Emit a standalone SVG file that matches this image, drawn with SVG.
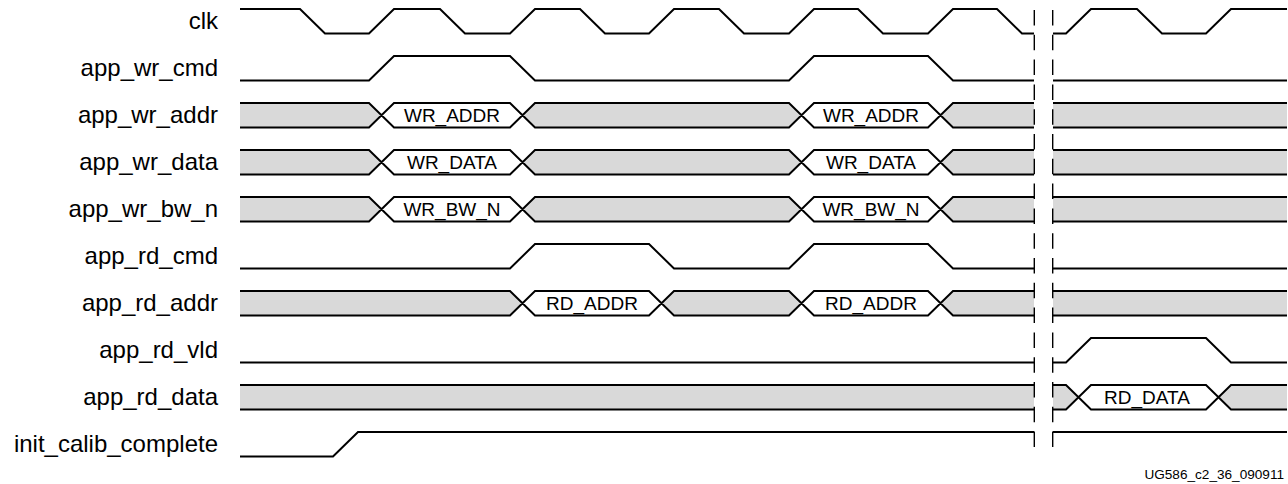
<svg xmlns="http://www.w3.org/2000/svg" width="1288" height="484" viewBox="0 0 1288 484">
<style>
  .lbl { font-family: "Liberation Sans", Arial, Helvetica, sans-serif; font-size: 24px; fill: #000; text-anchor: end; }
  .val { font-family: "Liberation Sans", Arial, Helvetica, sans-serif; font-size: 19px; fill: #000; text-anchor: middle; }
  .foot { font-family: "Liberation Sans", Arial, Helvetica, sans-serif; font-size: 13.6px; fill: #000; text-anchor: end; }
  .sig { fill: none; stroke: #000; stroke-width: 2; stroke-linejoin: miter; }
  .gray { fill: #d9d9d9; stroke: none; }
  .brk { fill: none; stroke: #000; stroke-width: 1.4; stroke-dasharray: 15.5 9.3; }
</style>
<rect x="0" y="0" width="1288" height="484" fill="#fff"/>

<g id="clk" transform="translate(0,9)">
  <text class="lbl" x="218" y="20">clk</text>
  <path class="sig" d="M240,0 H300 L325,24.5 H369 L394,0 H440 L465,24.5 H510 L535,0 H580 L605,24.5 H649 L674,0 H719 L744,24.5 H789 L814,0 H858 L883,24.5 H928 L953,0 H997 L1022,24.5 H1034"/>
  <path class="sig" d="M1053,24.5 H1066 L1091,0 H1137 L1162,24.5 H1206 L1231,0 H1287"/>
</g>

<g id="app_wr_cmd" transform="translate(0,56)">
  <text class="lbl" x="218" y="20">app_wr_cmd</text>
  <path class="sig" d="M240,24.5 H369 L394,0 H510 L535,24.5 H789 L814,0 H928 L953,24.5 H1034"/>
  <path class="sig" d="M1053,24.5 H1287"/>
</g>

<g id="app_wr_addr" transform="translate(0,103)">
  <text class="lbl" x="218" y="20">app_wr_addr</text>
  <path class="gray" d="M240,0 H369 L381.5,12.25 L369,24.5 H240 Z M522.5,12.25 L535,0 H789 L801.5,12.25 L789,24.5 H535 Z M940.5,12.25 L953,0 H1034 V24.5 H953 Z M1053,0 H1287 V24.5 H1053 Z"/>
  <path class="sig" d="M240,0 H369 L394,24.5 H510 L535,0 H789 L814,24.5 H928 L953,0 H1034 M240,24.5 H369 L394,0 H510 L535,24.5 H789 L814,0 H928 L953,24.5 H1034 M1053,0 H1287 M1053,24.5 H1287"/>
  <text class="val" x="452" y="19.25">WR_ADDR</text>
  <text class="val" x="871" y="19.25">WR_ADDR</text>
</g>

<g id="app_wr_data" transform="translate(0,150)">
  <text class="lbl" x="218" y="20">app_wr_data</text>
  <path class="gray" d="M240,0 H369 L381.5,12.25 L369,24.5 H240 Z M522.5,12.25 L535,0 H789 L801.5,12.25 L789,24.5 H535 Z M940.5,12.25 L953,0 H1034 V24.5 H953 Z M1053,0 H1287 V24.5 H1053 Z"/>
  <path class="sig" d="M240,0 H369 L394,24.5 H510 L535,0 H789 L814,24.5 H928 L953,0 H1034 M240,24.5 H369 L394,0 H510 L535,24.5 H789 L814,0 H928 L953,24.5 H1034 M1053,0 H1287 M1053,24.5 H1287"/>
  <text class="val" x="452" y="19.25">WR_DATA</text>
  <text class="val" x="871" y="19.25">WR_DATA</text>
</g>

<g id="app_wr_bw_n" transform="translate(0,197)">
  <text class="lbl" x="218" y="20">app_wr_bw_n</text>
  <path class="gray" d="M240,0 H369 L381.5,12.25 L369,24.5 H240 Z M522.5,12.25 L535,0 H789 L801.5,12.25 L789,24.5 H535 Z M940.5,12.25 L953,0 H1034 V24.5 H953 Z M1053,0 H1287 V24.5 H1053 Z"/>
  <path class="sig" d="M240,0 H369 L394,24.5 H510 L535,0 H789 L814,24.5 H928 L953,0 H1034 M240,24.5 H369 L394,0 H510 L535,24.5 H789 L814,0 H928 L953,24.5 H1034 M1053,0 H1287 M1053,24.5 H1287"/>
  <text class="val" x="452" y="19.25">WR_BW_N</text>
  <text class="val" x="871" y="19.25">WR_BW_N</text>
</g>

<g id="app_rd_cmd" transform="translate(0,244)">
  <text class="lbl" x="218" y="20">app_rd_cmd</text>
  <path class="sig" d="M240,24.5 H510 L535,0 H649 L674,24.5 H789 L814,0 H928 L953,24.5 H1034"/>
  <path class="sig" d="M1053,24.5 H1287"/>
</g>

<g id="app_rd_addr" transform="translate(0,291)">
  <text class="lbl" x="218" y="20">app_rd_addr</text>
  <path class="gray" d="M240,0 H510 L522.5,12.25 L510,24.5 H240 Z M661.5,12.25 L674,0 H789 L801.5,12.25 L789,24.5 H674 Z M940.5,12.25 L953,0 H1034 V24.5 H953 Z M1053,0 H1287 V24.5 H1053 Z"/>
  <path class="sig" d="M240,0 H510 L535,24.5 H649 L674,0 H789 L814,24.5 H928 L953,0 H1034 M240,24.5 H510 L535,0 H649 L674,24.5 H789 L814,0 H928 L953,24.5 H1034 M1053,0 H1287 M1053,24.5 H1287"/>
  <text class="val" x="592" y="19.25">RD_ADDR</text>
  <text class="val" x="871" y="19.25">RD_ADDR</text>
</g>

<g id="app_rd_vld" transform="translate(0,338)">
  <text class="lbl" x="218" y="20">app_rd_vld</text>
  <path class="sig" d="M240,24.5 H1034"/>
  <path class="sig" d="M1053,24.5 H1066 L1091,0 H1206 L1231,24.5 H1287"/>
</g>

<g id="app_rd_data" transform="translate(0,385)">
  <text class="lbl" x="218" y="20">app_rd_data</text>
  <path class="gray" d="M240,0 H1034 V24.5 H240 Z M1053,0 H1066 L1078.5,12.25 L1066,24.5 H1053 Z M1218.5,12.25 L1231,0 H1287 V24.5 H1231 Z"/>
  <path class="sig" d="M240,0 H1034 M240,24.5 H1034 M1053,0 H1066 L1091,24.5 H1206 L1231,0 H1287 M1053,24.5 H1066 L1091,0 H1206 L1231,24.5 H1287"/>
  <text class="val" x="1147" y="19.25">RD_DATA</text>
</g>

<g id="init_calib_complete" transform="translate(0,432)">
  <text class="lbl" x="218" y="20">init_calib_complete</text>
  <path class="sig" d="M240,24.5 H333 L358,0 H1034"/>
  <path class="sig" d="M1053,0 H1287"/>
</g>

<g id="connectors">
  <line class="brk" x1="1034.3" y1="10" x2="1034.3" y2="449"/>
  <line class="brk" x1="1052.7" y1="10" x2="1052.7" y2="449"/>
</g>

<text class="foot" x="1284" y="479">UG586_c2_36_090911</text>
</svg>
